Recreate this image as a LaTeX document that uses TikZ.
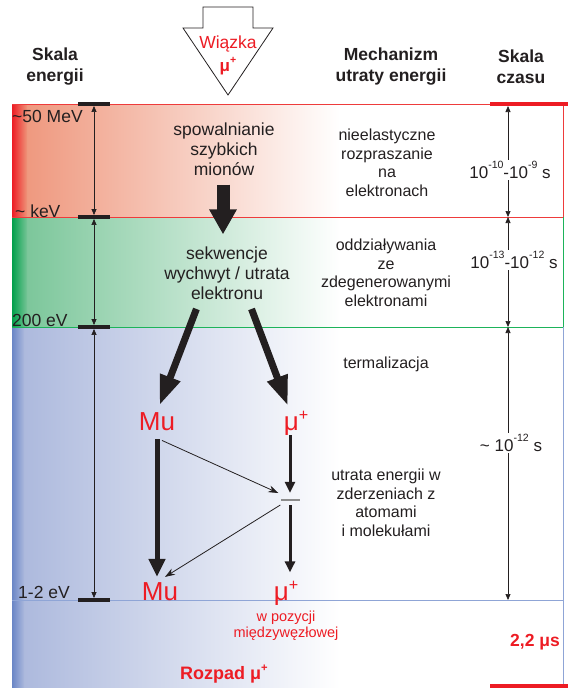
\documentclass[tikz,border=0pt]{standalone}
\usepackage{fontspec}
\setmainfont{Liberation Sans}
\usepackage{graphicx}
\usepackage{tikz}
\usetikzlibrary{arrows.meta,positioning,calc}
\usepackage{xcolor}
\definecolor{ink}{HTML}{231F20}
\definecolor{mured}{HTML}{ED1C24}
\definecolor{salmon}{HTML}{EE9479}
\definecolor{leaf}{HTML}{00A04B}
\definecolor{mint}{HTML}{76C496}
\definecolor{deepblue}{HTML}{6A86C6}
\definecolor{lilac}{HTML}{AAB7DC}
\definecolor{edgered}{HTML}{EE3B3B}
\definecolor{edgegreen}{HTML}{1DB35A}
\definecolor{edgeblue}{HTML}{8FA5D6}
\definecolor{gray}{HTML}{8C8C8C}
\newcommand{\up}[2][0.58em]{\raisebox{#1}{\scalebox{0.62}{#2}}}
\tikzset{
  txt/.style={text=ink,align=center,inner sep=0pt},
  head/.style={txt,font=\fontsize{17.5}{21}\selectfont\bfseries},
  mech/.style={txt,font=\fontsize{16}{18.5}\selectfont},
  stage/.style={txt,font=\fontsize{17.5}{20}\selectfont},
  elabel/.style={txt,anchor=west,font=\fontsize{17.5}{20}\selectfont},
  tlabel/.style={txt,font=\fontsize{17}{20}\selectfont,fill=white,inner sep=1.5pt},
  state/.style={txt,anchor=base,text=mured,font=\fontsize{26}{28}\selectfont},
  redbold/.style={txt,text=mured,font=\fontsize{17.5}{20}\selectfont\bfseries},
  redsmall/.style={txt,text=mured,font=\fontsize{14.5}{15.5}\selectfont},
  ebar/.style={fill=ink,minimum width=32pt,minimum height=3.5pt,inner sep=0pt},
  stopbar/.style={fill=gray,minimum width=19pt,minimum height=2pt,inner sep=0pt},
  span/.style={{Triangle[width=5pt,length=6pt]}-{Triangle[width=5pt,length=6pt]},line width=0.7pt,draw=ink},
  block/.style={-{Triangle[width=26pt,length=25pt]},line width=13pt,draw=ink},
  fat/.style={-{Triangle[width=20pt,length=30pt]},line width=7pt,draw=ink},
  drop/.style={-{Triangle[width=16pt,length=18pt]},line width=5pt,draw=ink},
  fall/.style={-{Triangle[width=10pt,length=11pt]},line width=3pt,draw=ink},
  hop/.style={-{Stealth[width=7pt,length=10pt]},line width=0.8pt,draw=ink}
}
\begin{document}
\begin{tikzpicture}[x=1pt,y=-1pt]
\useasboundingbox (0,0) rectangle (568,688);

\shade[left color=salmon,right color=white] (12,104) rectangle (340,217);
\shade[left color=mured,right color=salmon] (12,104) rectangle (27,217);
\shade[left color=mint,right color=white] (12,217) rectangle (340,327);
\shade[left color=leaf,right color=mint] (12,217) rectangle (27,327);
\shade[left color=lilac,right color=white] (12,327) rectangle (340,688);
\shade[left color=deepblue,right color=lilac] (12,327) rectangle (24,688);

\draw[edgered,line width=0.8pt] (12,104) -- (563,104) -- (563,217) -- (12,217);
\draw[edgegreen,line width=0.8pt] (563,217) -- (563,327) -- (12,327);
\draw[edgeblue,line width=0.8pt] (563,327) -- (563,688);
\draw[edgeblue,line width=0.8pt] (12,600) -- (563,600);
\draw[mured,line width=3.5pt] (490,104) -- (568,104);
\draw[mured,line width=3.5pt] (490,686) -- (568,686);

\draw[ink,line width=0.8pt,fill=white] (203,7) -- (253,7) -- (253,28) -- (273,28) -- (228,95) -- (183,28) -- (203,28) -- cycle;
\node[txt,text=mured,font=\fontsize{17.5}{20}\selectfont] (beam) at (228,44) {Wiązka};
\node[redbold,font=\fontsize{17}{20}\selectfont\bfseries,below=5pt of beam] (beammu) {μ\up[0.45em]{+}};

\node[head] (escale) at (55,67) {Skala\\energii};
\node[head] (mechhead) at (391,67) {Mechanizm\\utraty energii};
\node[head] (tscale) at (521,67) {Skala\\czasu};

\node[ebar] (mev) at (94,104) {};
\node[ebar] (kev) at (94,217) {};
\node[ebar] (ev200) at (94,327) {};
\node[ebar] (ev1) at (94,600) {};
\draw[span] (mev.south) -- (kev.north);
\draw[span] (kev.south) -- (ev200.north);
\draw[span] (ev200.south) -- (ev1.north);
\node[elabel] (lmev) at (12,116) {\textasciitilde50 MeV};
\node[elabel] (lkev) at (15,211) {\textasciitilde{} keV};
\node[elabel] (l200) at (12,320) {200 eV};
\node[elabel] (l1) at (18,592) {1-2 eV};

\coordinate (t0) at (508,106);
\coordinate (t1) at (508,217);
\coordinate (t2) at (508,327);
\coordinate (t3) at (508,600);
\draw[span] (t0) -- (t1);
\draw[span] (t1) -- (t2);
\draw[span] (t2) -- (t3);
\node[tlabel] (tinel) at (510,170) {10\up{-10}-10\up{-9} s};
\node[tlabel] (tdegen) at (514,260) {10\up{-13}-10\up{-12} s};
\node[tlabel] (ttherm) at (511,443) {\textasciitilde{} 10\up{-12} s};

\node[mech] (inel) at (387,163) {nieelastyczne\\rozpraszanie\\na\\elektronach};
\node[mech] (degen) at (386,273) {oddziaływania\\ze\\zdegenerowanymi\\elektronami};
\node[mech] (therm) at (386,364) {termalizacja};
\node[mech] (coll) at (386,503) {utrata energii w\\zderzeniach z\\atomami\\i molekułami};

\node[stage] (slow) at (224,149) {spowalnianie\\szybkich\\mionów};
\node[stage] (seq) at (227,273) {sekwencje\\wychwyt / utrata\\elektronu};

\node[state] (mu1) at (157,430) {Mu};
\node[state] (mup1) at (296,430) {μ\up[0.35em]{+}};
\node[stopbar] (stop) at (290,500) {};
\node[state] (mu2) at (160,600) {Mu};
\node[state] (mup2) at (286,600) {μ\up[0.35em]{+}};
\node[redsmall,below=6pt of mup2] (interst) {w pozycji\\międzywęzłowej};
\node[redbold] (life) at (535,642) {2,2 μs};
\node[redbold,font=\fontsize{18}{20}\selectfont\bfseries] (decay) at (224,674) {Rozpad μ\up[0.4em]{+}};

\draw[block,shorten <=9pt,shorten >=12pt] (slow.south -| 223,0) -- (seq.north -| 223,0);
\draw[fat,shorten <=10pt,shorten >=7pt] ([xshift=-27pt]seq.south) -- (mu1.north);
\draw[fat,shorten <=10pt,shorten >=6pt] ([xshift=21pt]seq.south) -- (mup1.north -| stop);
\draw[drop,shorten <=9pt,shorten >=5pt] (mu1.south) -- (mu2.north -| mu1);
\draw[fall,shorten >=6pt] (mup1.south -| stop) -- (stop.north);
\draw[fall,shorten <=4pt,shorten >=9pt] (stop.south) -- (mup2.north -| stop);
\draw[hop] ([xshift=5pt,yshift=-10pt]mu1.south) -- ([xshift=-2pt,yshift=7pt]stop.west);
\draw[hop] ([yshift=-5pt]stop.west) -- ([xshift=5pt,yshift=5pt]mu2.north);
\end{tikzpicture}
\end{document}
